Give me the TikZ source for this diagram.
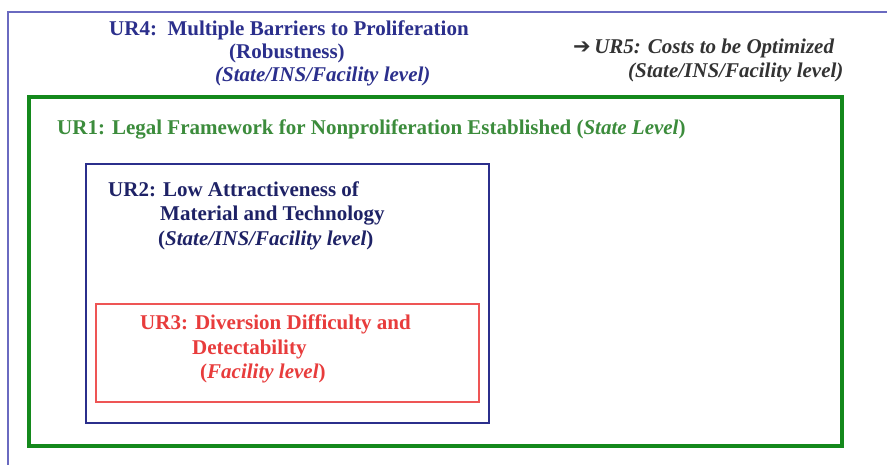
\documentclass[tikz,border=0pt]{standalone}
\usepackage{fontspec}
\setmainfont{Liberation Serif}
\newfontfamily\symfont{DejaVu Sans}
\usepackage{tikz}
\usetikzlibrary{positioning}

\definecolor{outerblue}{HTML}{6A6AC0}
\definecolor{framegreen}{HTML}{14891C}
\definecolor{navy}{HTML}{2B2F8C}
\definecolor{textnavy}{HTML}{1E2266}
\definecolor{textgreen}{HTML}{3C8C3C}
\definecolor{framered}{HTML}{EE5555}
\definecolor{textred}{HTML}{E83C3C}

\tikzset{
  urtext/.style={anchor=base west, inner sep=0pt, font=\fontsize{21}{24}\selectfont\bfseries},
}

\begin{document}
\begin{tikzpicture}[x=1pt, y=-1pt]
        \useasboundingbox[fill=white] (0,0) rectangle (887,465);

        % frames
        \draw[outerblue, line width=2pt] (8,465) -- (8,12) -- (887,12);
        \draw[framegreen, line width=4pt] (29,97) rectangle (842,446);
        \draw[navy, line width=2pt] (86,164) rectangle (489,423);
        \draw[framered, line width=2.5pt] (96,304) rectangle (479,402);

        % UR4
        \node[urtext, navy] (ur4a) at (109,36) {UR4:\ \ Multiple Barriers to Proliferation};
        \node[urtext, navy] (ur4b) at (229,59) {(Robustness)};
        \node[urtext, navy] (ur4c) at (215,82) {\itshape (State/INS/Facility level)};

        % UR5
        \node[urtext, black!80] (ur5a) at (573,54) {{\symfont\bfseries\upshape ➔}\itshape\,UR5: Costs to be Optimized};
        \node[urtext, black!80] (ur5b) at (628,78) {\itshape (State/INS/Facility level)};

        % UR1
        \node[urtext, textgreen] (ur1) at (57,135) {UR1: Legal Framework for Nonproliferation Established ({\itshape State Level})};

        % UR2
        \node[urtext, textnavy] (ur2a) at (108,197) {UR2: Low Attractiveness of};
        \node[urtext, textnavy] (ur2b) at (160,221) {Material and Technology};
        \node[urtext, textnavy] (ur2c) at (158,246) {({\itshape State/INS/Facility level})};

        % UR3
        \node[urtext, textred] (ur3a) at (140,330) {UR3: Diversion Difficulty and};
        \node[urtext, textred] (ur3b) at (192,354) {Detectability};
        \node[urtext, textred] (ur3c) at (200,378) {({\itshape Facility level})};
    \end{tikzpicture}
\end{document}
